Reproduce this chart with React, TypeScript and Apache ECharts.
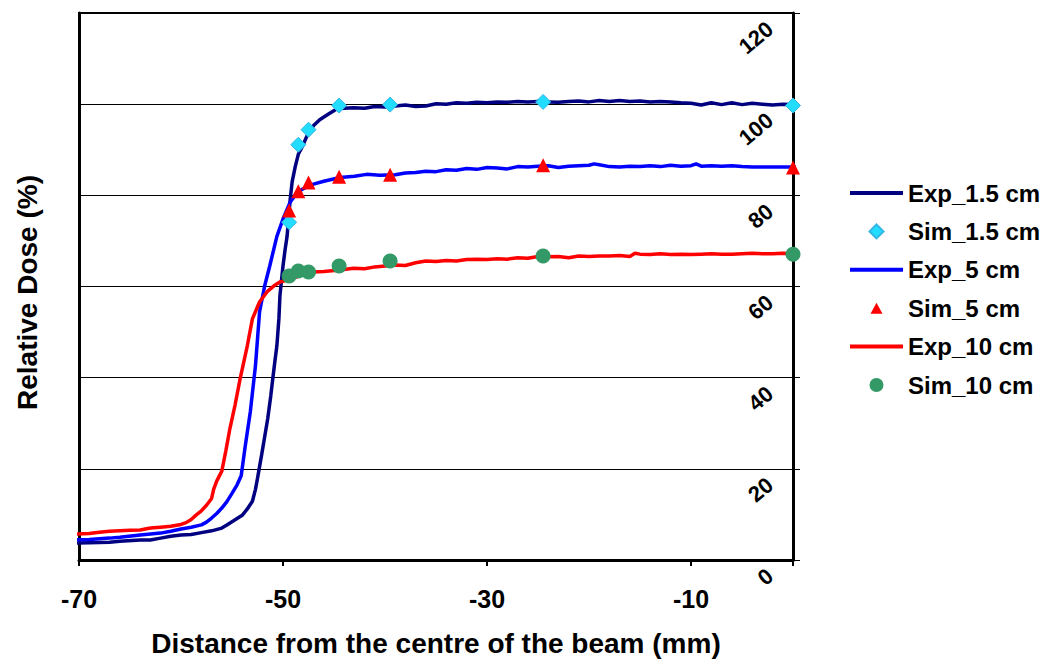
import React, { useEffect, useRef } from "react";
import * as echarts from "echarts";

const X_TICK_LABELS = ["-70", "-50", "-30", "-10"];
const Y_TICKS = [0, 20, 40, 60, 80, 100, 120];

const EXP_15: number[][] = [
  [-70.6, 3.7], [-69, 3.8], [-67, 3.9], [-66, 4.1], [-64, 4.4], [-63, 4.4], [-62, 4.8], [-61, 5.2],
  [-60, 5.5], [-59, 5.6], [-58, 6.0], [-57, 6.4], [-56, 7.0], [-55.5, 7.7], [-55, 8.4], [-54.5, 9.1],
  [-54, 9.8], [-53.5, 11.2], [-53, 12.9], [-52.7, 15.5], [-52.5, 17.9], [-52.1, 23], [-51.8, 27],
  [-51.5, 31], [-51.2, 36], [-51, 39.8], [-50.8, 43.5], [-50.6, 47], [-50.4, 53], [-50.3, 58],
  [-50, 64.5], [-49.8, 68], [-49.6, 71], [-49.3, 79], [-49.1, 83], [-48.8, 86.3], [-48.5, 89],
  [-48.1, 90.7], [-47.5, 93.8], [-47, 95.3], [-46.4, 96.6], [-45.5, 97.9], [-44.7, 99], [-44, 99.1],
  [-43.1, 99.2], [-42, 99.1], [-41, 99.5], [-40, 99.4], [-39, 99.6], [-38, 99.8], [-37, 99.5],
  [-36, 99.6], [-35, 100.1], [-34, 100], [-33, 100.3], [-32, 100.2], [-31, 100.4], [-30, 100.3],
  [-29, 100.5], [-28, 100.4], [-27, 100.6], [-26, 100.5], [-25, 100.6], [-24, 100.5], [-23, 100.4],
  [-22, 100.6], [-21, 100.7], [-20, 100.5], [-19, 100.8], [-18, 100.6], [-17, 100.8], [-16, 100.6],
  [-15, 100.7], [-14, 100.5], [-13, 100.6], [-12, 100.5], [-11, 100.3], [-10, 100.2], [-9, 99.8],
  [-8, 100.3], [-7, 99.9], [-6, 100.3], [-5, 99.9], [-4, 100.2], [-3, 100], [-2, 99.8], [-1, 100],
  [0, 99.9], [1, 100],
];

const EXP_5: number[][] = [
  [-70.6, 4.4], [-69, 4.5], [-67, 4.8], [-66, 5.0], [-64, 5.5], [-62, 5.9], [-61, 6.3], [-60, 6.8],
  [-59, 7.2], [-58, 7.7], [-57.5, 8.3], [-57, 9.2], [-56.5, 10.2], [-56, 11.4], [-55.5, 12.8],
  [-55, 14.6], [-54.5, 16.5], [-54.1, 18.5], [-53.7, 25], [-53.2, 32.6], [-52.7, 42.6], [-52.3, 54.4],
  [-51.8, 60.1], [-51.3, 64.5], [-50.6, 71], [-50, 74.8], [-49.3, 78.5], [-48.6, 80.7], [-47.8, 81.7],
  [-47.1, 82.4], [-46, 83.1], [-44.4, 83.9], [-43, 84.2], [-41.8, 84.6], [-40.5, 84.4], [-39, 84.5],
  [-38, 84.9], [-37, 85.0], [-36, 85.3], [-35, 85.2], [-34, 85.6], [-33, 85.5], [-32, 85.9],
  [-31, 85.7], [-30, 86.1], [-29, 86.0], [-28, 85.8], [-27, 86.3], [-26, 86.2], [-25, 86.4],
  [-24, 86.5], [-23, 86.1], [-22, 86.4], [-21, 86.5], [-20, 86.6], [-19.5, 86.9], [-19, 86.7],
  [-18, 86.3], [-17, 86.2], [-16, 86.4], [-15, 86.3], [-14, 86.5], [-13, 86.3], [-12, 86.6],
  [-11, 86.4], [-10, 86.5], [-9.5, 86.9], [-9, 86.4], [-8, 86.5], [-7, 86.4], [-6, 86.5], [-5, 86.3],
  [-4, 86.2], [-3, 86.2], [-2, 86.2], [-1, 86.2], [0, 86.2], [1, 86.2],
];

const EXP_10: number[][] = [
  [-70.6, 5.7], [-69, 5.8], [-68, 6.1], [-67, 6.3], [-66, 6.4], [-65, 6.5], [-64, 6.6], [-63, 7.0],
  [-62, 7.2], [-61, 7.4], [-60, 7.8], [-59.5, 8.2], [-59, 8.9], [-58.5, 9.9], [-58, 10.8],
  [-57.5, 12], [-57, 13.5], [-56.8, 15.5], [-56.5, 17.3], [-56, 19.5], [-55.6, 24], [-55.2, 28.9],
  [-54.7, 34], [-54.2, 39.8], [-53.5, 47], [-53, 52.9], [-52.3, 56.6], [-51.5, 59], [-50.8, 60.3],
  [-50.3, 61], [-49.3, 61.6], [-48, 62.6], [-47.1, 63.2], [-46, 63.3], [-44.4, 63.6], [-43.1, 64],
  [-42, 63.9], [-41, 64.3], [-40, 64.5], [-39, 64.7], [-38, 64.6], [-37, 65.2], [-36, 65.6],
  [-35, 65.5], [-34, 65.7], [-33, 65.6], [-32, 65.9], [-31, 66], [-30, 65.9], [-29, 66.1],
  [-28, 66.0], [-27, 66.3], [-26, 66.2], [-25, 66.6], [-24, 66.5], [-23, 66.6], [-22, 66.3],
  [-21, 66.7], [-20, 66.6], [-19, 66.7], [-18, 66.7], [-17, 66.8], [-16, 66.6], [-15.5, 67.3],
  [-15, 67.1], [-14, 67.0], [-13, 67.2], [-12, 67.0], [-11, 67.1], [-10, 67.0], [-9, 67.1],
  [-8, 67.2], [-7, 67.1], [-6, 67.1], [-5, 67.2], [-4, 67.3], [-3, 67.2], [-2, 67.2], [-1, 67.3],
  [0, 67.2], [1, 66.8],
];

const SIM_X = [-49.4, -48.5, -47.5, -44.5, -39.5, -24.5, 0];
const SIM_15 = [74.1, 91.1, 94.4, 99.7, 99.9, 100.5, 99.7];
const SIM_5 = [76.7, 80.9, 82.8, 84.1, 84.5, 86.6, 86.1];
const SIM_10 = [62.3, 63.4, 63.2, 64.5, 65.6, 66.7, 67.1];

const FONT = "'Liberation Sans', Arial, sans-serif";
const LINE_ICON = "path://M0,0 L53,0 L53,4 L0,4 Z";
const DIAMOND_ICON = "path://M0,0 M15,15 M7.5,0.5 L14.5,7.5 L7.5,14.5 L0.5,7.5 Z";
const TRIANGLE_ICON = "path://M0,0 M15,15 M7.5,2 L13.5,13 L1.5,13 Z";
const CIRCLE_ICON = "path://M0,0 M15,15 M0.5,7.5 A7,7 0 1,1 14.5,7.5 A7,7 0 1,1 0.5,7.5 Z";

export default function App() {
  const ref = useRef<HTMLDivElement>(null);
  useEffect(() => {
    if (!ref.current) return;
    const chart = echarts.init(ref.current, null, { renderer: "svg" });
    const pts = (ys: number[]) => SIM_X.map((x, i) => [x, ys[i]]);
    const option: any = {
      animation: false,
      backgroundColor: "#fff",
      grid: {
        left: 79, right: 259, top: 13, bottom: 100,
        show: true, borderColor: "#000", borderWidth: 2, backgroundColor: "transparent",
      },
      legend: {
        orient: "vertical",
        left: 850,
        top: 181,
        padding: 0,
        itemWidth: 53,
        itemHeight: 15,
        itemGap: 14.4,
        symbolKeepAspect: true,
        textStyle: { fontFamily: FONT, fontSize: 24, fontWeight: "bold", color: "#000", lineHeight: 24 },
        data: [
          { name: "Exp_1.5 cm", icon: LINE_ICON },
          { name: "Sim_1.5 cm", icon: DIAMOND_ICON },
          { name: "Exp_5 cm", icon: LINE_ICON },
          { name: "Sim_5 cm", icon: TRIANGLE_ICON },
          { name: "Exp_10 cm", icon: LINE_ICON },
          { name: "Sim_10 cm", icon: CIRCLE_ICON },
        ],
      },
      xAxis: {
        type: "value",
        min: -70,
        max: 0,
        interval: 20,
        name: "Distance from the centre of the beam (mm)",
        nameLocation: "middle",
        nameGap: 69,
        nameTextStyle: { fontFamily: FONT, fontSize: 28, fontWeight: "bold", color: "#000" },
        axisLine: { show: true, onZero: false, lineStyle: { color: "#000", width: 3 } },
        axisTick: { show: true, inside: false, length: 6, lineStyle: { color: "#000", width: 2 } },
        axisLabel: {
          margin: 26,
          fontFamily: FONT, fontSize: 25, fontWeight: "bold", color: "#000",
          formatter: (v: number) => (X_TICK_LABELS.indexOf(String(v)) >= 0 ? String(v) : ""),
        },
        splitLine: { show: false },
      },
      yAxis: [
        {
          type: "value",
          min: 0,
          max: 120,
          interval: 20,
          position: "right",
          axisLine: { show: true, lineStyle: { color: "#000", width: 3 } },
          axisTick: { show: true, inside: false, length: 7, lineStyle: { color: "#000", width: 1 } },
          axisLabel: { show: false },
          splitLine: { show: true, lineStyle: { color: "#000", width: 1 } },
        },
        {
          type: "value",
          min: 0,
          max: 120,
          interval: 20,
          position: "left",
          name: "Relative Dose (%)",
          nameLocation: "middle",
          nameGap: 38,
          nameRotate: 90,
          nameTextStyle: { fontFamily: FONT, fontSize: 28, fontWeight: "bold", color: "#000", padding: [0, 12, 0, 0] },
          axisLine: { show: true, lineStyle: { color: "#000", width: 3 } },
          axisTick: { show: false },
          axisLabel: { show: false },
          splitLine: { show: false },
        },
      ],
      series: [
        {
          name: "Exp_1.5 cm", type: "line", data: EXP_15, symbol: "none", clip: false, z: 2,
          lineStyle: { color: "#000080", width: 3.5 }, itemStyle: { color: "#000080" },
        },
        {
          name: "Sim_1.5 cm", type: "scatter", data: pts(SIM_15), symbol: "diamond", symbolSize: 15, clip: false, z: 4,
          itemStyle: { color: "#22DDFF", borderColor: "#33B5E5", borderWidth: 1, opacity: 1 },
        },
        {
          name: "Exp_5 cm", type: "line", data: EXP_5, symbol: "none", clip: false, z: 2,
          lineStyle: { color: "#0000FF", width: 3.5 }, itemStyle: { color: "#0000FF" },
        },
        {
          name: "Sim_5 cm", type: "scatter", data: pts(SIM_5), symbol: "triangle", symbolSize: 14, clip: false, z: 4,
          itemStyle: { color: "#FF0000", opacity: 1 },
        },
        {
          name: "Exp_10 cm", type: "line", data: EXP_10, symbol: "none", clip: false, z: 2,
          lineStyle: { color: "#FF0000", width: 3.5 }, itemStyle: { color: "#FF0000" },
        },
        {
          name: "Sim_10 cm", type: "scatter", data: pts(SIM_10), symbol: "circle", symbolSize: 15, clip: false, z: 4,
          itemStyle: { color: "#339966", opacity: 1 },
        },
      ],
    };
    chart.setOption(option);
    const xr = chart.convertToPixel({ xAxisIndex: 0 }, 0) as number;
    const labels = Y_TICKS.map((v) => {
      const py = chart.convertToPixel({ yAxisIndex: 0 }, v) as number;
      return {
        type: "text",
        x: xr - 23,
        y: py + 13,
        rotation: (40 * Math.PI) / 180,
        style: {
          text: String(v),
          fontFamily: FONT,
          fontSize: 22,
          fontWeight: "bold",
          fill: "#000",
          align: "right",
          verticalAlign: "middle",
        },
        z: 10,
      };
    });
    chart.setOption({ graphic: labels });
    return () => chart.dispose();
  }, []);
  return (
    <div
      ref={ref}
      style={{ position: "fixed", left: 0, top: 0, width: 1052, height: 662 }}
    />
  );
}
